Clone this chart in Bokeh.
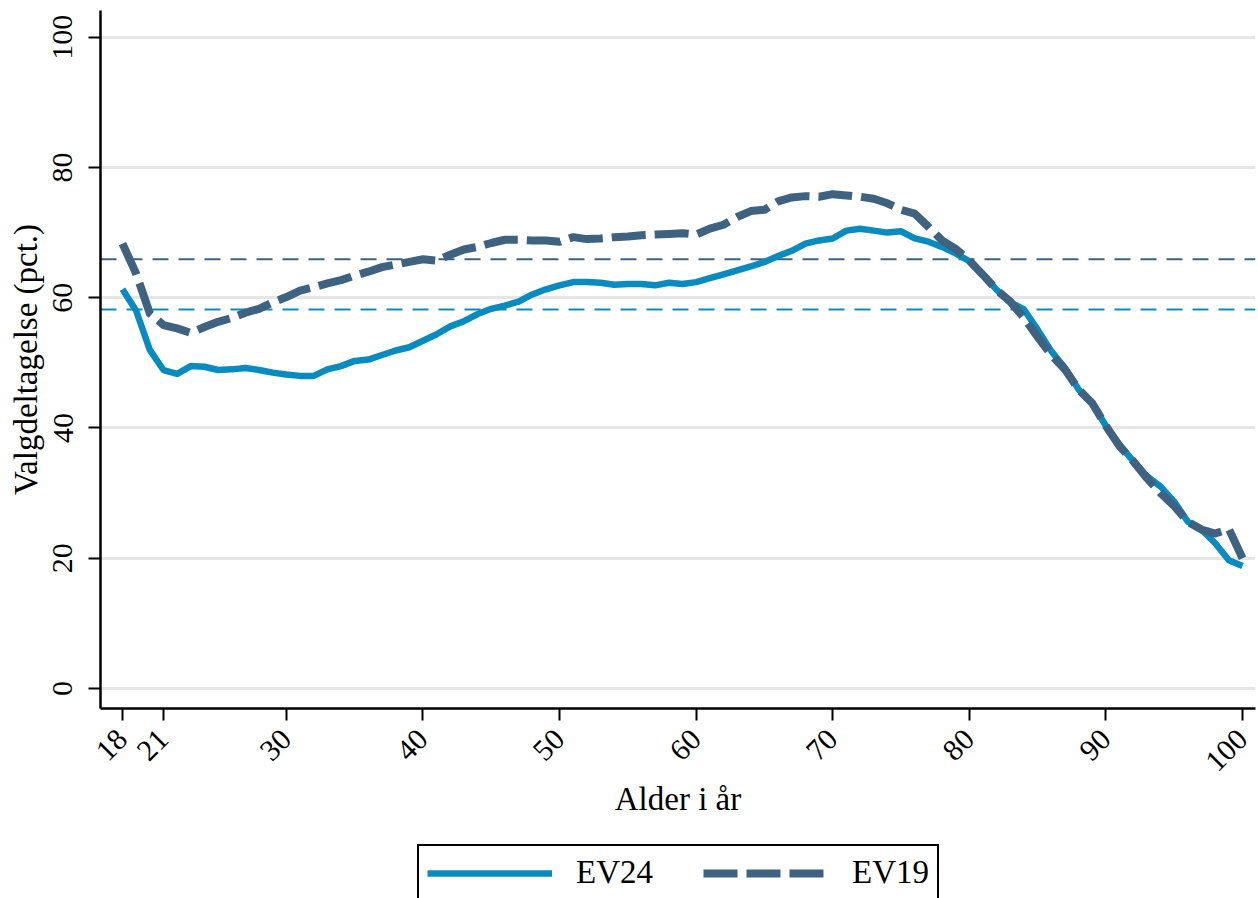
from bokeh.plotting import figure
from bokeh.models import Range1d, FixedTicker, Span, Legend, LegendItem, ColumnDataSource
from bokeh.layouts import column
from bokeh.embed import file_html
from bokeh.resources import INLINE
import math

ages = list(range(18, 101))

ev24 = [61.3, 58.0, 52.0, 48.9, 48.3, 49.5, 49.4, 48.9, 49.0, 49.2,
        48.9, 48.5, 48.2, 48.0, 48.0, 49.0, 49.5, 50.3, 50.5, 51.2,
        51.9, 52.4, 53.4, 54.4, 55.6, 56.4, 57.5, 58.3, 58.8, 59.4,
        60.5, 61.3, 61.9, 62.4, 62.4, 62.3, 62.0, 62.1, 62.1, 61.9,
        62.3, 62.1, 62.4, 63.0, 63.6, 64.2, 64.8, 65.5, 66.4, 67.2,
        68.3, 68.8, 69.1, 70.3, 70.6, 70.3, 70.0, 70.2, 69.1, 68.6,
        67.8, 66.8, 65.6, 63.6, 61.2, 59.3, 58.2, 55.1, 51.8, 49.2,
        45.9, 43.8, 40.3, 37.4, 34.9, 32.6, 31.0, 28.7, 25.6, 24.4,
        22.3, 19.7, 18.8]

ev19 = [68.3, 63.7, 57.6, 55.8, 55.3, 54.6, 55.5, 56.3, 56.9, 57.7,
        58.3, 59.3, 60.1, 61.1, 61.6, 62.2, 62.7, 63.4, 64.0, 64.7,
        65.1, 65.5, 65.9, 65.7, 66.6, 67.4, 67.8, 68.4, 68.9, 68.9,
        68.8, 68.8, 68.6, 69.3, 69.0, 69.1, 69.3, 69.4, 69.6, 69.7,
        69.8, 69.9, 69.7, 70.6, 71.2, 72.4, 73.3, 73.5, 74.8, 75.4,
        75.6, 75.5, 75.9, 75.7, 75.5, 75.2, 74.5, 73.5, 72.9, 70.9,
        68.8, 67.5, 65.7, 63.5, 61.2, 59.4, 56.9, 54.0, 51.2, 49.0,
        45.9, 43.8, 40.3, 37.2, 34.9, 32.3, 30.0, 28.0, 25.6, 24.4,
        23.8, 24.5, 20.0]

mean_ev24 = 58.2
mean_ev19 = 65.9

x_ticks = [18, 21, 30, 40, 50, 60, 70, 80, 90, 100]
y_ticks = [0, 20, 40, 60, 80, 100]
series_labels = ["EV24", "EV19"]

c24 = "#0a8bbf"
c19 = "#3f6280"
font = "Liberation Serif"

src = ColumnDataSource(dict(age=ages, ev24=ev24, ev19=ev19))

p = figure(frame_width=1155, frame_height=698,
           x_range=Range1d(16.39, 100.95), y_range=Range1d(-3.07, 104.1),
           output_backend="svg", toolbar_location=None,
           min_border_left=100, min_border_right=1, min_border_top=10,
           min_border_bottom=134)
p.outline_line_color = None
p.xgrid.visible = False
p.ygrid.grid_line_color = "#e6e6e6"
p.ygrid.grid_line_width = 3

for ax in (p.xaxis[0], p.yaxis[0]):
    ax.axis_line_width = 2.5
    ax.axis_line_color = "black"
    ax.major_tick_line_width = 2
    ax.major_tick_line_color = "black"
    ax.major_tick_out = 12
    ax.major_tick_in = 0
    ax.minor_tick_out = 0
    ax.minor_tick_in = 0
    ax.major_label_text_font = font
    ax.major_label_text_font_size = "30px"
    ax.major_label_text_color = "black"
    ax.axis_label_text_font = font
    ax.axis_label_text_font_size = "33px"
    ax.axis_label_text_font_style = "normal"
    ax.axis_label_text_color = "black"

p.xaxis[0].ticker = FixedTicker(ticks=x_ticks)
p.yaxis[0].ticker = FixedTicker(ticks=y_ticks)
p.xaxis[0].major_label_orientation = math.pi / 4
p.yaxis[0].major_label_orientation = "vertical"
p.xaxis[0].axis_label = "Alder i år"
p.yaxis[0].axis_label = "Valgdeltagelse (pct.)"
p.yaxis[0].major_label_standoff = 16
p.yaxis[0].axis_label_standoff = 7
p.xaxis[0].major_label_standoff = 14
p.xaxis[0].axis_label_standoff = -2

s19 = Span(location=mean_ev19, dimension="width", line_color=c19,
           line_width=2, line_dash="16 10", level="underlay")
s24 = Span(location=mean_ev24, dimension="width", line_color=c24,
           line_width=2, line_dash="16 10", level="underlay")
p.add_layout(s19)
p.add_layout(s24)

r24 = p.line("age", "ev24", source=src, line_color=c24, line_width=6.5,
             line_join="round")
r19 = p.line("age", "ev19", source=src, line_color=c19, line_width=8,
             line_dash="34 9", line_join="round")

# legend strip below the chart (frame aligned with the main frame)
pl = figure(frame_width=1155, frame_height=56,
            x_range=Range1d(0, 1), y_range=Range1d(0, 1),
            output_backend="svg", toolbar_location=None,
            x_axis_location=None, y_axis_location=None,
            min_border_left=100, min_border_right=1, min_border_top=0,
            min_border_bottom=0)
pl.outline_line_color = None
pl.xgrid.visible = False
pl.ygrid.visible = False
dummy = ColumnDataSource(dict(x=[-2, -1], y=[-2, -2]))
l24 = pl.line("x", "y", source=dummy, line_color=c24, line_width=6.5)
l19 = pl.line("x", "y", source=dummy, line_color=c19, line_width=8,
              line_dash="34 9")

legend = Legend(items=[LegendItem(label=series_labels[0], renderers=[l24]),
                       LegendItem(label=series_labels[1], renderers=[l19])],
                orientation="horizontal", location=(317, -3),
                border_line_color="black", border_line_width=2,
                border_line_alpha=1,
                padding=8, spacing=50, glyph_width=125, glyph_height=30,
                label_standoff=24, label_text_font=font,
                label_text_font_size="33px", label_text_color="black",
                margin=0,
                background_fill_color="white", background_fill_alpha=1)
pl.add_layout(legend)

open("out.html", "w").write(file_html(column(p, pl, spacing=0), INLINE))
